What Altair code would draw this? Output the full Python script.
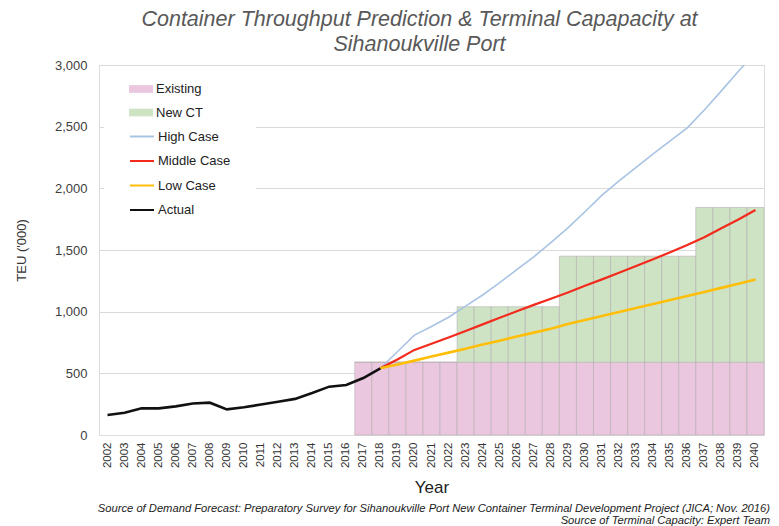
import altair as alt
import pandas as pd

years = ["2002", "2003", "2004", "2005", "2006", "2007", "2008", "2009", "2010",
         "2011", "2012", "2013", "2014", "2015", "2016", "2017", "2018", "2019",
         "2020", "2021", "2022", "2023", "2024", "2025", "2026", "2027", "2028",
         "2029", "2030", "2031", "2032", "2033", "2034", "2035", "2036", "2037",
         "2038", "2039", "2040"]

# Actual throughput 2002-2018 ('000 TEU)
actual_years = years[:17]
actual = [162, 181, 216, 216, 232, 255, 262, 208, 225, 247, 270, 293, 340, 392, 405, 462, 541]

# Forecasts 2018-2040
proj_years = years[16:]
high = [541, 675, 810, 880, 955, 1045, 1135, 1235, 1340, 1445, 1560, 1680, 1810, 1945,
        2060, 2170, 2280, 2385, 2490, 2635, 2790, 2950, 3100]
middle = [541, 612, 690, 740, 790, 843, 897, 950, 1003, 1055, 1105, 1155, 1210, 1262,
          1315, 1370, 1425, 1482, 1540, 1603, 1676, 1748, 1825]
low = [541, 572, 603, 636, 668, 700, 733, 765, 798, 830, 862, 900, 932, 965,
       997, 1030, 1062, 1095, 1127, 1160, 1193, 1227, 1260]

# Terminal capacity 2017-2040
cap_years = years[15:]
existing = [590] * 24
new_ct = [0] * 6 + [450] * 6 + [860] * 8 + [1255] * 4

bar_series = ["Existing", "New CT"]
bar_colors = ["#EAC7DE", "#CDE3C4"]
line_series = ["High Case", "Middle Case", "Low Case", "Actual"]
line_colors = ["#A9C3E3", "#F32A1C", "#FFBE0A", "#111111"]
line_widths = [1.6, 2.2, 2.6, 2.6]
y_ticks = [0, 500, 1000, 1500, 2000, 2500, 3000]

title_lines = ["Container Throughput Prediction & Terminal Capapacity at", "Sihanoukville Port"]
note1 = "Source of Demand Forecast: Preparatory Survey for Sihanoukville Port New Container Terminal Development Project (JICA; Nov. 2016)"
note2 = "Source of Terminal Capacity: Expert Team"

FONT = "Liberation Sans"
W, H = 665, 370

bar_rows = []
for y, e, n in zip(cap_years, existing, new_ct):
    bar_rows.append({"year": y, "series": "Existing", "value": e, "ord": 0})
    bar_rows.append({"year": y, "series": "New CT", "value": n, "ord": 1})
bar_df = pd.DataFrame(bar_rows)

line_values = {"High Case": (proj_years, high), "Middle Case": (proj_years, middle),
               "Low Case": (proj_years, low), "Actual": (actual_years, actual)}

x_enc = alt.X("year:O",
              scale=alt.Scale(domain=years, paddingInner=0, paddingOuter=0),
              axis=alt.Axis(title="Year", labelAngle=270, labelFontSize=11.5,
                            labelColor="#333333", labelFont=FONT, ticks=False,
                            domain=False, labelPadding=7, titleFontSize=17,
                            titleFont=FONT, titleFontWeight="normal",
                            titleColor="#222222", titlePadding=12))
y_enc = alt.Y("value:Q",
              scale=alt.Scale(domain=[0, 3000], nice=False),
              stack="zero",
              axis=alt.Axis(title="TEU ('000)", values=y_ticks,
                            labelExpr="format(datum.value, ',')",
                            labelFontSize=13, labelColor="#404040",
                            labelFont=FONT, ticks=False, domain=False, labelPadding=12,
                            titleFontSize=13, titleFont=FONT, titleFontWeight="normal",
                            titleColor="#333333", titlePadding=26,
                            gridColor="#DADADA", gridWidth=1,
                            gridOpacity={"condition": {"test": "datum.value === 0", "value": 0}, "value": 1}))

fill_legend = alt.Legend(
    orient="none", legendX=30, legendY=12, title=None,
    symbolType="M-1,-0.32H1V0.32H-1Z", symbolSize=576, symbolStrokeWidth=0,
    labelFontSize=13, labelFont=FONT, labelColor="#222222",
    fillColor="white", padding=0, rowPadding=4.5, labelOffset=3, zindex=2,
)
stroke_legend = alt.Legend(
    orient="none", legendX=5, legendY=33.5, title=None,
    symbolType="stroke", symbolSize=576, symbolStrokeWidth=2,
    labelFontSize=13, labelFont=FONT, labelColor="#222222",
    fillColor="white", padding=25, rowPadding=4.5, labelOffset=3, zindex=1,
)

fill_enc = alt.Fill("series:N", scale=alt.Scale(domain=bar_series, range=bar_colors),
                    legend=fill_legend)
stroke_enc = alt.Stroke("series:N", scale=alt.Scale(domain=line_series, range=line_colors),
                        legend=stroke_legend)

bars = alt.Chart(bar_df).mark_bar(stroke="#B5AEB2", strokeWidth=0.6, opacity=1).encode(
    x=x_enc, y=y_enc, fill=fill_enc, order=alt.Order("ord:Q")
)

layers = [bars]
for name, w in zip(line_series, line_widths):
    yrs, vals = line_values[name]
    df = pd.DataFrame({"year": yrs, "value": vals, "series": name})
    layers.append(
        alt.Chart(df).mark_line(strokeWidth=w, clip=True).encode(
            x="year:O", y="value:Q", stroke=stroke_enc
        )
    )

for txt, dy in [(note1, 74), (note2, 86)]:
    layers.append(
        alt.Chart(pd.DataFrame({"t": [txt]})).mark_text(
            align="right", baseline="middle", font=FONT, fontSize=11.2, fontStyle="italic",
            color="#222222", clip=False
        ).encode(x=alt.value(W + 6), y=alt.value(H + dy), text="t:N")
    )

chart = alt.layer(*layers).properties(
    width=W, height=H,
    autosize=alt.AutoSizeParams(type="none"),
    padding={"left": 91, "top": 57, "right": 7, "bottom": 95},
    title=alt.TitleParams(title_lines, font=FONT, fontSize=21.5, fontStyle="italic",
                          fontWeight="normal", color="#595959", anchor="middle",
                          offset=4, dx=-12, lineHeight=25),
).configure_view(stroke=None).configure(font=FONT)

chart.save("out.html", embed_options={"renderer": "svg", "actions": False})
